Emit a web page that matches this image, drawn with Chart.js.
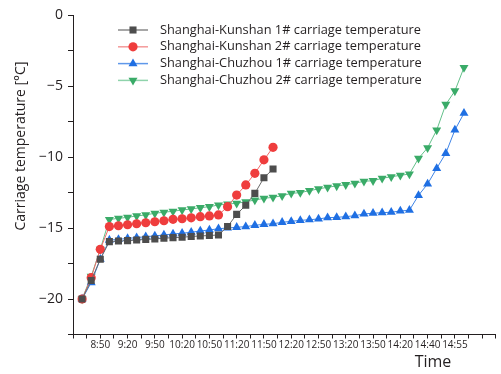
<!DOCTYPE html>
<html>
<head>
<meta charset="utf-8">
<script src="https://cdn.jsdelivr.net/npm/chart.js@4.4.1/dist/chart.umd.min.js"></script>
<style>
  html, body { margin: 0; padding: 0; background: #fff; }
  #wrap { width: 501px; height: 374px; position: relative; }
</style>
</head>
<body>
<div id="wrap"><canvas id="myChart"></canvas></div>
<script>
//DATA (one reading every 10 minutes, starting 8:30)
const timeLabels = ['8:50', '9:20', '9:50', '10:20', '10:50', '11:20', '11:50', '12:20', '12:50', '13:20', '13:50', '14:20', '14:40', '14:55'];

const seriesNames = [
    'Shanghai-Kunshan 1# carriage temperature',
    'Shanghai-Kunshan 2# carriage temperature',
    'Shanghai-Chuzhou 1# carriage temperature',
    'Shanghai-Chuzhou 2# carriage temperature'
];

const kunshan1 = [-20, -18.7, -17.2, -15.96, -15.92, -15.89, -15.85, -15.8, -15.77, -15.72, -15.68, -15.65, -15.6, -15.56, -15.53, -15.49,
    -14.9, -14.04, -13.4, -12.56, -11.46, -10.85];

const kunshan2 = [-20, -18.5, -16.5, -14.9, -14.84, -14.77, -14.7, -14.63, -14.56, -14.49, -14.39, -14.35, -14.28, -14.2, -14.15, -14.08,
    -13.5, -12.68, -11.97, -11.15, -10.2, -9.32];

const chuzhou1 = [-20, -18.85, -17.2, -15.85, -15.8, -15.73, -15.68, -15.61, -15.56, -15.49, -15.42, -15.37, -15.3, -15.21, -15.14, -15.05,
    -15.0, -14.95, -14.9, -14.81, -14.74, -14.7, -14.6, -14.53, -14.46, -14.42, -14.36, -14.27, -14.25, -14.2, -14.13, -14.01,
    -13.96, -13.92, -13.89, -13.8, -13.75, -12.7, -11.9, -10.8, -9.74, -8.1, -6.92];

const chuzhou2 = [-20, -18.4, -16.5, -14.4, -14.32, -14.25, -14.15, -14.08, -13.96, -13.89, -13.82, -13.73, -13.66, -13.57, -13.5, -13.38,
    -13.31, -13.26, -13.15, -13.03, -12.91, -12.84, -12.73, -12.56, -12.51, -12.37, -12.25, -12.13, -12.04, -11.95, -11.85, -11.71,
    -11.67, -11.5, -11.39, -11.29, -11.2, -10.1, -9.35, -8.1, -6.3, -5.35, -3.7];

//STYLES
const markColors = ['#4d4d4d', '#ef3d3d', '#1f6fe3', '#3aab68'];
const lineColors = ['#6a6a6a', '#f06a6a', '#3f84e6', '#63c08a'];
const legendLineColors = ['#8a8a8a', '#f49a9a', '#5f98ea', '#8fd3ab'];
const pointStyles = ['rect', 'circle', 'triangle', 'triangle'];
const pointRotations = [0, 0, 0, 180];
const pointRadii = [5, 4.6, 5.2, 5.2];

const FONT = "'Open Sans', 'Noto Sans', sans-serif";
const TEXT = '#231f20';

// x position in minutes after 8:20
const toPoints = (values) => values.map((v, i) => ({x: 10 + 10 * i, y: v}));

const allSeries = [kunshan1, kunshan2, chuzhou1, chuzhou2];

const datasets = allSeries.map((values, i) => ({
    label: seriesNames[i],
    data: toPoints(values),
    borderColor: lineColors[i],
    borderWidth: 1,
    backgroundColor: markColors[i],
    pointBackgroundColor: markColors[i],
    pointBorderColor: markColors[i],
    pointBorderWidth: 0,
    pointStyle: pointStyles[i],
    rotation: pointRotations[i],
    pointRadius: pointRadii[i],
    tension: 0,
}));

const drawMark = (ctx, style, rot, r, x, y, color) => {
    ctx.save();
    ctx.fillStyle = color;
    ctx.beginPath();
    if (style === 'rect') {
        const s = r * Math.SQRT1_2;
        ctx.rect(x - s, y - s, 2 * s, 2 * s);
    } else if (style === 'circle') {
        ctx.arc(x, y, r, 0, Math.PI * 2);
    } else {
        const dir = rot === 180 ? -1 : 1;
        ctx.moveTo(x, y - dir * r);
        ctx.lineTo(x - r * 0.866, y + dir * r * 0.5);
        ctx.lineTo(x + r * 0.866, y + dir * r * 0.5);
        ctx.closePath();
    }
    ctx.fill();
    ctx.restore();
};

const extras = {
    id: 'extras',
    afterDraw(chart) {
        const ctx = chart.ctx;
        ctx.save();
        // legend
        ctx.font = '12.8px ' + FONT;
        ctx.textBaseline = 'middle';
        ctx.textAlign = 'left';
        for (let i = 0; i < seriesNames.length; i++) {
            const y = 30 + 16.8 * i;
            ctx.strokeStyle = legendLineColors[i];
            ctx.lineWidth = 1.5;
            ctx.beginPath();
            ctx.moveTo(118, y);
            ctx.lineTo(148, y);
            ctx.stroke();
            drawMark(ctx, pointStyles[i], pointRotations[i], pointRadii[i], 133, y, markColors[i]);
            ctx.fillStyle = TEXT;
            ctx.fillText(seriesNames[i], 160, y);
        }
        // axis titles
        ctx.fillStyle = TEXT;
        ctx.font = '16px ' + FONT;
        ctx.textAlign = 'center';
        ctx.fillText('Time', 433, 362);
        ctx.translate(21, 146);
        ctx.rotate(-Math.PI / 2);
        ctx.font = '14px ' + FONT;
        ctx.fillText('Carriage temperature [\u00B0C]', 0, 0);
        ctx.restore();
    }
};

const config = {
    type: 'line',
    data: {datasets: datasets},
    options: {
        responsive: false,
        animation: false,
        devicePixelRatio: 1,
        layout: {padding: {top: 15, right: 0, left: 0, bottom: 0}},
        plugins: {legend: {display: false}, tooltip: {enabled: false}},
        scales: {
            x: {
                type: 'linear',
                min: 0,
                max: 465,
                afterFit: (scale) => { scale.height = 39.5; },
                afterBuildTicks: (scale) => {
                    const t = [];
                    for (let v = 0; v <= 465; v += 15) t.push({value: v});
                    scale.ticks = t;
                },
                grid: {display: true, drawOnChartArea: false, drawTicks: true, tickLength: 4, color: TEXT, tickColor: TEXT},
                border: {display: true, color: TEXT, width: 1},
                ticks: {
                    autoSkip: false,
                    maxRotation: 0,
                    padding: 1,
                    color: TEXT,
                    font: {family: FONT, size: 10},
                    callback: (v) => (v > 0 && v % 30 === 0) ? (timeLabels[v / 30 - 1] || '') : ''
                }
            },
            y: {
                min: -22.5,
                max: 0,
                afterFit: (scale) => { scale.width = 73; },
                afterBuildTicks: (scale) => {
                    const t = [];
                    for (let v = -22.5; v <= 0; v += 2.5) t.push({value: v});
                    scale.ticks = t;
                },
                grid: {display: true, drawOnChartArea: false, drawTicks: true, tickLength: 5, color: TEXT, tickColor: TEXT},
                border: {display: true, color: TEXT, width: 1},
                ticks: {
                    autoSkip: false,
                    padding: 5,
                    color: TEXT,
                    font: {family: FONT, size: 14},
                    callback: (v) => (v % 5 === 0) ? (v < 0 ? '\u2212' + Math.abs(v) : String(v)) : ''
                }
            }
        }
    },
    plugins: [extras]
};

const canvas = document.querySelector('#myChart');
canvas.width = 501;
canvas.height = 374;
var myChart = new Chart(canvas, config);
</script>
</body>
</html>
